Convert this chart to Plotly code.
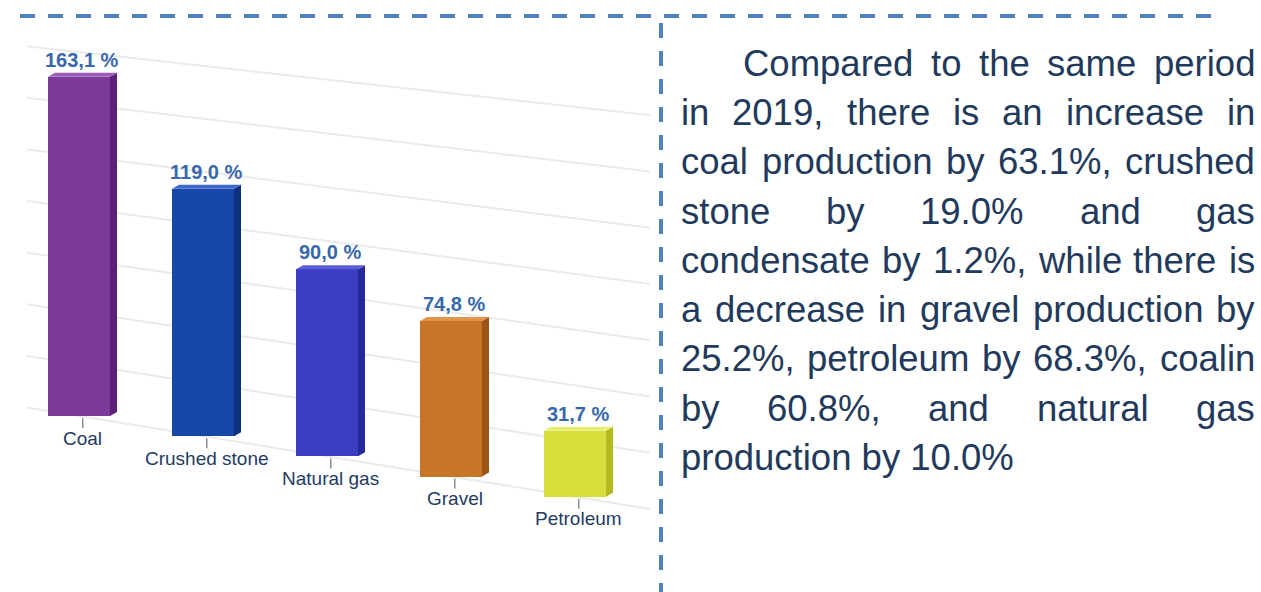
import plotly.graph_objects as go

# ---------------- data ----------------
categories = ["Coal", "Crushed stone", "Natural gas", "Gravel", "Petroleum"]
values = [163.1, 119.0, 90.0, 74.8, 31.7]
value_labels = ["163,1 %", "119,0 %", "90,0 %", "74,8 %", "31,7 %"]
front_colors = ["#7b3a98", "#1547a8", "#3b3ec0", "#c77527", "#d6de3c"]
side_colors = ["#5c2079", "#0c317f", "#27289a", "#9c5616", "#b3ba1f"]
top_colors = ["#9a5cb8", "#3d66c6", "#5a5ed8", "#e0954a", "#e8ee74"]
grid_values = [0, 25, 50, 75, 100, 125, 150, 175]

paragraph_lines = [
    "Compared to the same period",
    "in 2019, there is an increase in",
    "coal production by 63.1%, crushed",
    "stone by 19.0% and gas",
    "condensate by 1.2%, while there is",
    "a decrease in gravel production by",
    "25.2%, petroleum by 68.3%, coalin",
    "by 60.8%, and natural gas",
    "production by 10.0%",
]

# ---------------- layout constants ----------------
FIG_W, FIG_H = 1261, 592
PX_PER_CAT = 124.0
X0_PX = 79.0
CHART_RIGHT_PX = 650.0
PX_PER_UNIT = 2.08
BASE_PX = 416.0
FLOOR_TILT = 9.7          # units of drop per category (fake perspective floor)
BAR_W = 0.5
SIDE_DX = 7 / PX_PER_CAT
SIDE_DZ = 4 / PX_PER_UNIT

x_range = [-X0_PX / PX_PER_CAT, (CHART_RIGHT_PX - X0_PX) / PX_PER_CAT]
y_range = [-(FIG_H - BASE_PX) / PX_PER_UNIT, BASE_PX / PX_PER_UNIT]

idx = list(range(len(categories)))
bases = [-FLOOR_TILT * i for i in idx]

fig = go.Figure()

shapes = []
# gridlines (perspective: tilt decreases with height), drawn below the bars
for g in grid_values:
    tilt = FLOOR_TILT * (1 - g / 550.0)
    xa, xb = -0.42, 4.7
    shapes.append(dict(type="line", xref="x", yref="y", layer="below",
                       x0=xa, y0=g - tilt * xa, x1=xb, y1=g - tilt * xb,
                       line=dict(color="#ebebeb", width=2)))

# front faces
fig.add_trace(go.Bar(x=idx, y=values, base=bases, width=BAR_W,
                     marker=dict(color=front_colors, line=dict(width=0)),
                     hoverinfo="skip", showlegend=False))

# side and top faces
for i, v, b in zip(idx, values, bases):
    xl, xr = i - BAR_W / 2, i + BAR_W / 2
    top = b + v
    fig.add_trace(go.Scatter(
        x=[xr, xr + SIDE_DX, xr + SIDE_DX, xr, xr],
        y=[b, b + SIDE_DZ, top + SIDE_DZ, top, b],
        fill="toself", fillcolor=side_colors[i], mode="lines",
        line=dict(width=0, color=side_colors[i]),
        hoverinfo="skip", showlegend=False))
    fig.add_trace(go.Scatter(
        x=[xl, xl + SIDE_DX, xr + SIDE_DX, xr, xl],
        y=[top, top + SIDE_DZ, top + SIDE_DZ, top, top],
        fill="toself", fillcolor=top_colors[i], mode="lines",
        line=dict(width=0, color=top_colors[i]),
        hoverinfo="skip", showlegend=False))

# small ticks under bars
tx, ty = [], []
for i, b in zip(idx, bases):
    tx += [i + 0.03, i + 0.03, None]
    ty += [b - 1.0, b - 5.8, None]
fig.add_trace(go.Scatter(x=tx, y=ty, mode="lines",
                         line=dict(color="#8c8c8c", width=1.5),
                         hoverinfo="skip", showlegend=False))

annotations = []
for i, v, b, lab, cat in zip(idx, values, bases, value_labels, categories):
    annotations.append(dict(x=i, y=b + v, xref="x", yref="y", text=lab,
                            showarrow=False, xanchor="center", yanchor="middle",
                            yshift=17, xshift=3,
                            font=dict(family="Liberation Sans, Arial", size=20,
                                      color="#3868ac", weight="bold")))
    annotations.append(dict(x=i + 0.03, y=b, xref="x", yref="y", text=cat,
                            showarrow=False, xanchor="center", yanchor="middle",
                            yshift=-22,
                            font=dict(family="Liberation Sans, Arial", size=19,
                                      color="#1f3b63")))

# ---------------- justified paragraph ----------------
AW = {'a': 556, 'b': 556, 'c': 500, 'd': 556, 'e': 556, 'f': 278, 'g': 556, 'h': 556,
      'i': 222, 'j': 222, 'k': 500, 'l': 222, 'm': 833, 'n': 556, 'o': 556, 'p': 556,
      'q': 556, 'r': 333, 's': 500, 't': 278, 'u': 556, 'v': 500, 'w': 722, 'x': 500,
      'y': 500, 'z': 500, 'C': 722, '.': 278, ',': 278, '%': 889, ' ': 278}
for d in "0123456789":
    AW[d] = 556

TXT_SIZE = 36.5
TXT_LEFT, TXT_RIGHT = 681.0, 1255.0
INDENT = 62.0
BASELINE0, LINE_H = 76.0, 49.25
TXT_COLOR = "#1f3a5c"


def tw(s):
    return sum(AW.get(c, 556) for c in s) / 1000.0 * TXT_SIZE


def px_x(p):
    return p / FIG_W


def px_y(p):
    return 1 - p / FIG_H


for k, line in enumerate(paragraph_lines):
    base_y = BASELINE0 + k * LINE_H - 0.3465 * TXT_SIZE
    left = TXT_LEFT + (INDENT if k == 0 else 0)
    font = dict(family="Liberation Sans, Arial", size=TXT_SIZE, color=TXT_COLOR)
    if k == len(paragraph_lines) - 1:
        annotations.append(dict(x=px_x(left), y=px_y(base_y), xref="paper", yref="paper",
                                text=line, showarrow=False, xanchor="left",
                                yanchor="middle", borderpad=0, borderwidth=0, font=font))
        continue
    words = line.split()
    total = sum(tw(w) for w in words)
    gap = (TXT_RIGHT - left - total) / (len(words) - 1)
    x = left
    for j, w in enumerate(words):
        if j == len(words) - 1:
            annotations.append(dict(x=px_x(TXT_RIGHT), y=px_y(base_y), xref="paper",
                                    yref="paper", text=w, showarrow=False,
                                    xanchor="right", yanchor="middle", borderpad=0,
                                    borderwidth=0, font=font))
        else:
            annotations.append(dict(x=px_x(x), y=px_y(base_y), xref="paper",
                                    yref="paper", text=w, showarrow=False,
                                    xanchor="left", yanchor="middle", borderpad=0,
                                    borderwidth=0, font=font))
        x += tw(w) + gap

shapes += [
    dict(type="line", xref="paper", yref="paper",
         x0=px_x(20), x1=px_x(1213), y0=px_y(16), y1=px_y(16),
         line=dict(color="#4f81bd", width=4, dash="15px,13px")),
    dict(type="line", xref="paper", yref="paper",
         x0=px_x(661), x1=px_x(661), y0=px_y(23), y1=px_y(FIG_H),
         line=dict(color="#4f81bd", width=4, dash="15px,13px")),
]

fig.update_layout(
    width=FIG_W, height=FIG_H,
    margin=dict(l=0, r=0, t=0, b=0),
    paper_bgcolor="white", plot_bgcolor="rgba(0,0,0,0)",
    showlegend=False,
    xaxis=dict(domain=[0, CHART_RIGHT_PX / FIG_W], range=x_range, visible=False,
               fixedrange=True),
    yaxis=dict(domain=[0, 1], range=y_range, visible=False, fixedrange=True),
    annotations=annotations,
    shapes=shapes,
    bargap=0,
)

fig.write_html("out.html", config={"displayModeBar": False, "responsive": False},
               post_script="document.body.style.margin='0';document.body.style.overflow='hidden';")
